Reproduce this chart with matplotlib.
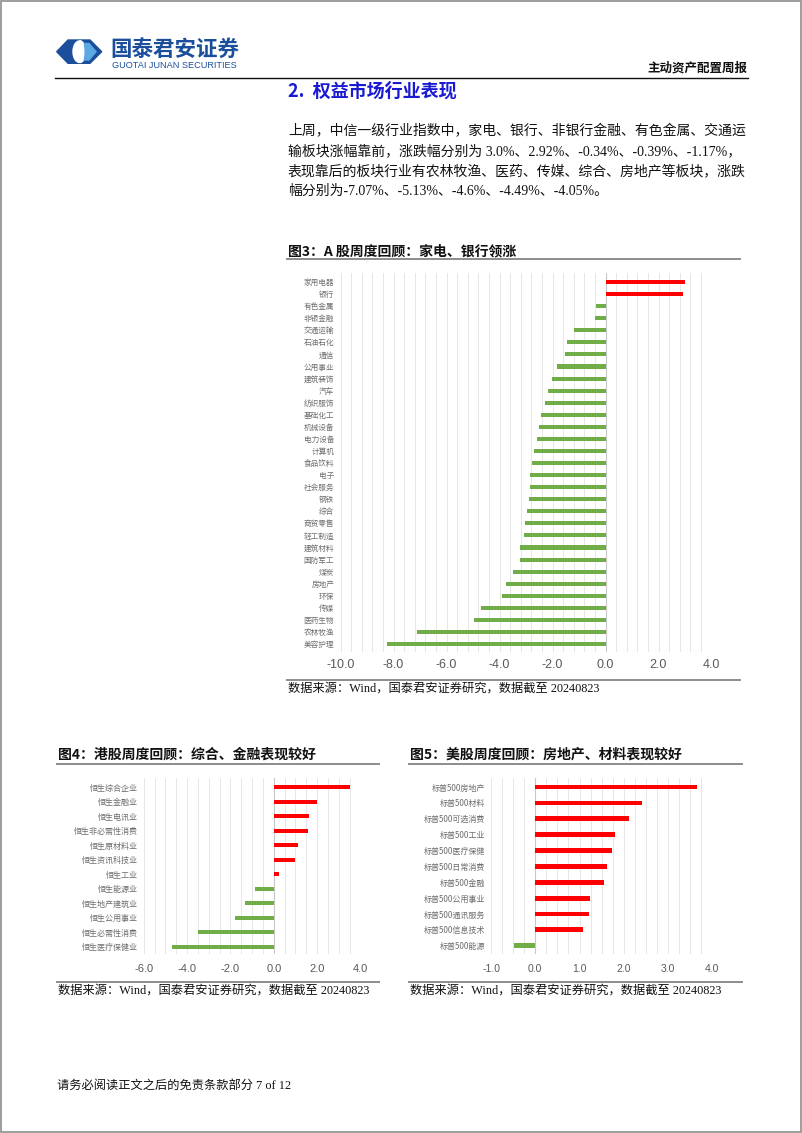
import matplotlib

matplotlib.use("Agg")
import matplotlib.pyplot as plt
import numpy as np
from matplotlib.lines import Line2D
from matplotlib.patches import Ellipse, Polygon, Rectangle
from matplotlib.ticker import FormatStrFormatter, MultipleLocator

CJK = "Noto Sans CJK SC"
SERIF = ["Liberation Serif", CJK]
plt.rcParams["font.family"] = [CJK, "DejaVu Sans"]

RED = "#FF0000"
GREEN = "#70AD47"
GRID = "#E6E6E6"
LABEL_GRAY = "#6E6E6E"
TICK_GRAY = "#595959"

# ---- data ----
a_labels = ["家用电器", "银行", "有色金属", "非银金融", "交通运输", "石油石化", "通信",
            "公用事业", "建筑装饰", "汽车", "纺织服饰", "基础化工", "机械设备", "电力设备",
            "计算机", "食品饮料", "电子", "社会服务", "钢铁", "综合", "商贸零售", "轻工制造",
            "建筑材料", "国防军工", "煤炭", "房地产", "环保", "传媒", "医药生物", "农林牧渔",
            "美容护理"]
a_values = [3.00, 2.92, -0.34, -0.39, -1.17, -1.44, -1.52, -1.84, -2.02, -2.17, -2.28,
            -2.42, -2.50, -2.58, -2.69, -2.79, -2.85, -2.86, -2.90, -2.97, -3.03, -3.08,
            -3.21, -3.24, -3.48, -3.75, -3.92, -4.70, -4.97, -7.13, -8.26]

hk_labels = ["恒生综合企业", "恒生金融业", "恒生电讯业", "恒生非必需性消费", "恒生原材料业",
             "恒生资讯科技业", "恒生工业", "恒生能源业", "恒生地产建筑业", "恒生公用事业",
             "恒生必需性消费", "恒生医疗保健业"]
hk_values = [3.51, 2.00, 1.63, 1.60, 1.11, 0.98, 0.23, -0.88, -1.32, -1.81, -3.48, -4.71]

us_labels = ["标普500房地产", "标普500材料", "标普500可选消费", "标普500工业", "标普500医疗保健",
             "标普500日常消费", "标普500金融", "标普500公用事业", "标普500通讯服务",
             "标普500信息技术", "标普500能源"]
us_values = [3.65, 2.42, 2.13, 1.80, 1.74, 1.62, 1.55, 1.23, 1.22, 1.09, -0.48]

para_lines = [
    "上周，中信一级行业指数中，家电、银行、非银行金融、有色金属、交通运",
    "输板块涨幅靠前，涨跌幅分别为 3.0%、2.92%、-0.34%、-0.39%、-1.17%，",
    "表现靠后的板块行业有农林牧渔、医药、传媒、综合、房地产等板块，涨跌",
    "幅分别为-7.07%、-5.13%、-4.6%、-4.49%、-4.05%。",
]
source_text = "数据来源：Wind，国泰君安证券研究，数据截至 20240823"

W, H = 802, 1133
fig = plt.figure(figsize=(W / 100, H / 100), dpi=100)
fig.patch.set_facecolor("white")


def px_axes(x0, y0, x1, y1):
    return fig.add_axes([x0 / W, 1 - y1 / H, (x1 - x0) / W, (y1 - y0) / H])


def px_text(x, y, s, **kw):
    kw.setdefault("va", "center")
    return fig.text(x / W, 1 - y / H, s, **kw)


def px_hline(x0, x1, y, color, lw):
    fig.add_artist(Line2D([x0 / W, x1 / W], [1 - y / H, 1 - y / H], color=color, lw=lw))


def bar_chart(box, labels, values, xlim, major, minor, ylim, bar_h, lab_size, tick_size,
              lab_pad, tick_pad):
    ax = px_axes(*box)
    y = np.arange(len(labels))
    colors = [RED if v >= 0 else GREEN for v in values]
    ax.barh(y, values, height=bar_h, color=colors, zorder=3)
    ax.set_xlim(*xlim)
    ax.set_ylim(*ylim)
    ax.xaxis.set_major_locator(MultipleLocator(major))
    ax.xaxis.set_minor_locator(MultipleLocator(minor))
    ax.xaxis.set_major_formatter(FormatStrFormatter("%.1f"))
    ax.grid(axis="x", which="both", color=GRID, lw=0.7, zorder=0)
    ax.axvline(0, color="#C8C8C8", lw=0.8, zorder=2)
    ax.set_yticks(y)
    ax.set_yticklabels(labels, fontsize=lab_size, color=LABEL_GRAY)
    ax.tick_params(axis="y", length=0, pad=lab_pad)
    ax.tick_params(axis="x", which="both", length=0, pad=tick_pad, labelsize=tick_size,
                   labelcolor=TICK_GRAY)
    for lab in ax.get_xticklabels():
        lab.set_family("Liberation Sans")
    for s in ax.spines.values():
        s.set_visible(False)
    ax.set_facecolor("none")
    return ax


# ---- page frame & header ----
fig.add_artist(Rectangle((0.0008, 0.0006), 0.9984, 0.9988, transform=fig.transFigure,
                         fill=False, edgecolor="#8C8C8C", lw=1.2))

logo = px_axes(50, 34, 110, 70)
logo.set_xlim(50, 110)
logo.set_ylim(70, 34)
logo.axis("off")
logo.add_patch(Polygon([(68, 40), (90, 40), (101.7, 51.7), (90, 63.3), (68, 63.3),
                        (56.7, 51.7)], closed=True, color="#1B4F9C"))
logo.add_patch(Ellipse((79.5, 51.7), 13, 21.5, color="white"))
logo.add_patch(Polygon([(84, 43.5), (89, 43.5), (96, 51.7), (89, 60), (84, 60)], closed=True,
                       color="#5BA8E2"))
logo.add_patch(Ellipse((80.5, 51.7), 6.5, 21.5, color="white"))

px_text(110, 49.5, "国泰君安证券", fontsize=15.5, fontweight="bold", color="#1B4F9C", ha="left")
px_text(112, 65, "GUOTAI JUNAN SECURITIES", fontsize=6.6, color="#1B4F9C", ha="left",
        family="Liberation Sans")
px_text(747, 68, "主动资产配置周报", fontsize=9, fontweight="bold", color="#111111", ha="right")
px_hline(55, 748, 77.5, "#111111", 1.0)

px_text(288, 91, "2.  权益市场行业表现", fontsize=13, fontweight="bold", color="#1A1AD2",
        ha="left")

for i, line in enumerate(para_lines):
    px_text(288, 131 + 20 * i, line, fontsize=10, color="#111111", ha="left", family=SERIF)

# ---- figure 3 ----
px_text(288, 251, "图3：A 股周度回顾：家电、银行领涨", fontsize=10, fontweight="bold",
        color="#111111", ha="left")
px_hline(287, 740, 259, "#8C8C8C", 1.4)
bar_chart((340.5, 273, 711.5, 652), a_labels, a_values, (-10, 4), 2.0, 0.4,
          (30.66, -0.75), 0.34, 5.5, 9, 4.5, 5.0)
px_hline(287, 740, 679.5, "#8C8C8C", 1.4)
px_text(288, 688.5, source_text, fontsize=8.8, color="#111111", ha="left", family=SERIF)

# ---- figure 4 ----
px_text(58, 755, "图4：港股周度回顾：综合、金融表现较好", fontsize=10, fontweight="bold",
        color="#111111", ha="left")
px_hline(57, 379, 764, "#8C8C8C", 1.4)
bar_chart((143.8, 778, 360.5, 954), hk_labels, hk_values, (-6, 4), 2.0, 0.5,
          (11.5, -0.64), 0.28, 5.8, 8, 4.0, 7.0)
px_hline(57, 379, 981.5, "#8C8C8C", 1.4)
px_text(58, 990.5, source_text, fontsize=8.8, color="#111111", ha="left", family=SERIF)

# ---- figure 5 ----
px_text(410, 755, "图5：美股周度回顾：房地产、材料表现较好", fontsize=10, fontweight="bold",
        color="#111111", ha="left")
px_hline(409, 742, 764, "#8C8C8C", 1.4)
bar_chart((491.1, 778, 712.1, 954), us_labels, us_values, (-1, 4), 1.0, 0.25,
          (10.52, -0.57), 0.3, 5.8, 7.5, 4.5, 7.0)
px_hline(409, 742, 981.5, "#8C8C8C", 1.4)
px_text(410, 990.5, source_text, fontsize=8.8, color="#111111", ha="left", family=SERIF)

# ---- footer ----
px_text(57, 1086, "请务必阅读正文之后的免责条款部分 7 of 12", fontsize=8.8, color="#111111",
        ha="left", family=SERIF)

fig.savefig("out.png", dpi=100)
